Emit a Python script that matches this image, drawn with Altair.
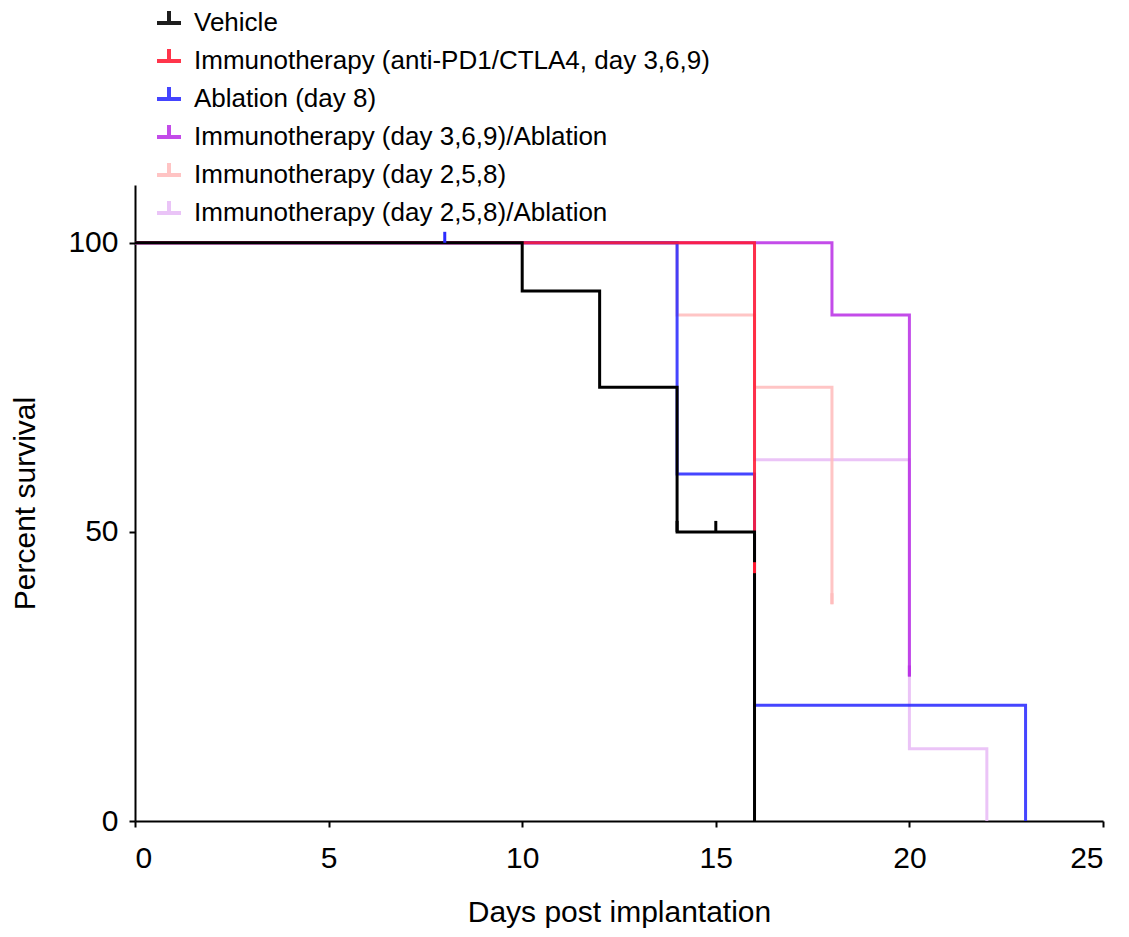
import altair as alt
import pandas as pd

groups = [
    "Vehicle",
    "Immunotherapy (anti-PD1/CTLA4, day 3,6,9)",
    "Ablation (day 8)",
    "Immunotherapy (day 3,6,9)/Ablation",
    "Immunotherapy (day 2,5,8)",
    "Immunotherapy (day 2,5,8)/Ablation",
]
colors = ["#000000", "#FF1A33", "#2B2BFF", "#BB33E6", "#FFBDBD", "#E8BCF6"]

vehicle_days = [0, 10, 12, 14, 16]
vehicle_surv = [100, 91.67, 75, 50, 0]
immuno_days = [0, 16]
immuno_surv = [100, 42.86]
ablation_days = [0, 14, 16, 23]
ablation_surv = [100, 60, 20, 0]
combo369_days = [0, 18, 20]
combo369_surv = [100, 87.5, 25]
immuno258_days = [0, 14, 16, 18]
immuno258_surv = [100, 87.5, 75, 37.5]
combo258_days = [0, 16, 20, 22]
combo258_surv = [100, 62.5, 12.5, 0]

censor_group = [groups[0], groups[0], groups[2], groups[1], groups[3], groups[4]]
censor_days = [14, 15, 8, 16, 20, 18]
censor_surv = [50, 50, 100, 42.86, 25, 37.5]

series = [
    (groups[0], vehicle_days, vehicle_surv),
    (groups[1], immuno_days, immuno_surv),
    (groups[2], ablation_days, ablation_surv),
    (groups[3], combo369_days, combo369_surv),
    (groups[4], immuno258_days, immuno258_surv),
    (groups[5], combo258_days, combo258_surv),
]
rows = []
for g, d, s in series:
    for di, si in zip(d, s):
        rows.append({"group": g, "day": di, "surv": si})
df = pd.DataFrame(rows)
cdf = pd.DataFrame({"group": censor_group, "day": censor_days, "surv": censor_surv})

FONT = "Liberation Sans"

color_scale = alt.Scale(domain=groups, range=colors)
xenc = alt.X("day:Q", scale=alt.Scale(domain=[0, 25], nice=False),
             axis=alt.Axis(values=[0, 5, 10, 15, 20, 25], title="Days post implantation"))
yenc = alt.Y("surv:Q", scale=alt.Scale(domain=[0, 110], nice=False),
             axis=alt.Axis(values=[0, 50, 100], title="Percent survival"))

legend = alt.Legend(
    title=None, orient="none", legendX=20, legendY=-176,
    symbolType="M-1,0H1M0,0V-1", symbolSize=576, symbolStrokeWidth=4,
    symbolFillColor="transparent", labelFontSize=26, labelFont=FONT,
    labelColor="black", rowPadding=5.0, labelOffset=11, padding=0,
    labelLimit=1000,
)

draw_order = [5, 4, 3, 2, 1, 0]
layers = []
for i in draw_order:
    g = groups[i]
    layers.append(
        alt.Chart(df).transform_filter(alt.datum.group == g)
        .mark_line(interpolate="step-after", strokeWidth=3,
                   opacity=1.0 if i == 0 else 0.88)
        .encode(x=xenc, y=yenc,
                color=alt.Color("group:N", scale=color_scale, legend=legend))
    )

ticks = alt.Chart(cdf).mark_tick(orient="vertical", size=11, thickness=3,
                                 yOffset=-5.5, opacity=1).encode(
    x=xenc, y=yenc, color=alt.Color("group:N", scale=color_scale, legend=legend)
)
layers.append(ticks)

chart = alt.layer(*layers).properties(
    width=968, height=636,
    autosize=alt.AutoSizeParams(type="none"),
    padding={"left": 135, "top": 185, "right": 26, "bottom": 116},
).configure_view(stroke=None).configure_axis(
    grid=False, domainColor="black", domainWidth=2, tickColor="black",
    tickWidth=2, tickSize=6, labelFont=FONT, labelFontSize=30,
    labelColor="black", titleFont=FONT, titleFontSize=30,
    titleFontWeight="normal", titleColor="black",
).configure_axisX(labelPadding=16, titlePadding=24).configure_axisY(
    labelPadding=11, titlePadding=27
)

chart.save("out.html", embed_options={"renderer": "svg", "actions": False})
